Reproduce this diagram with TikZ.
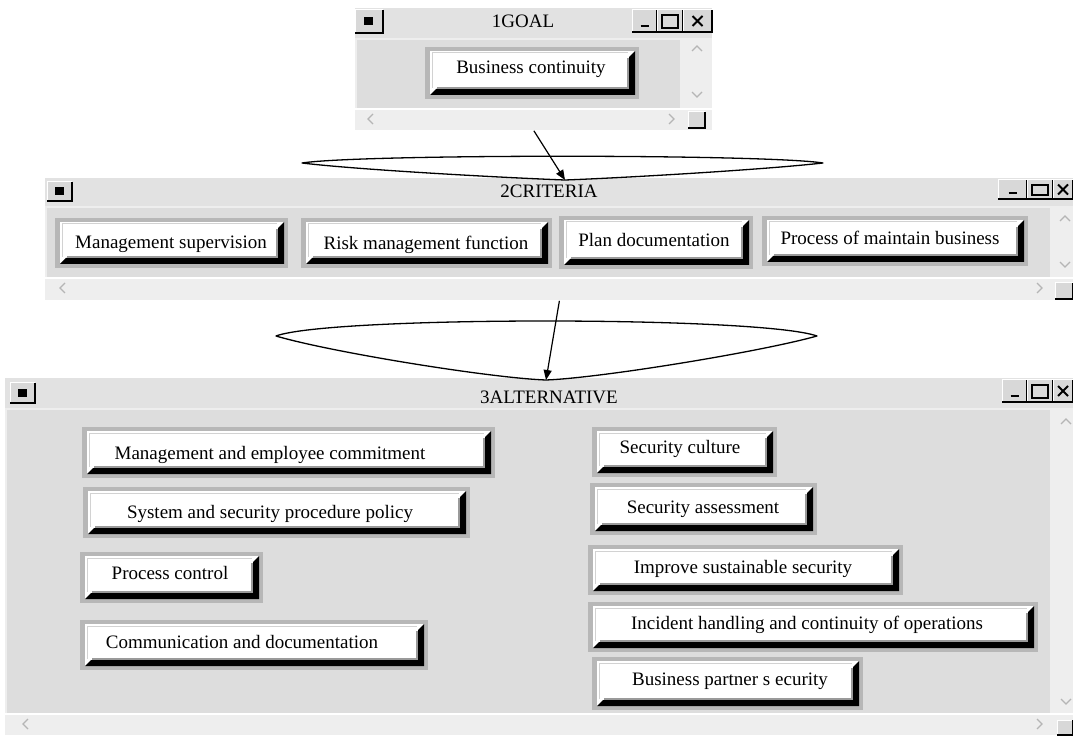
\documentclass[tikz,border=0pt]{standalone}
\usepackage{fontspec}
\setmainfont{Liberation Serif}
\usetikzlibrary{arrows.meta}
\definecolor{titlegray}{HTML}{E2E2E2}
\definecolor{contgray}{HTML}{DDDDDD}
\definecolor{stripgray}{HTML}{EEEEEE}
\definecolor{framegray}{HTML}{B7B7B7}
\definecolor{ctrlgray}{HTML}{D8D8D8}
\definecolor{chevgray}{HTML}{B5B5B5}
\definecolor{bevgray}{HTML}{9A9A9A}
\tikzset{
  lbl/.style={font=\fontsize{9.5}{11}\selectfont, inner sep=0pt, text=black},
  funnel/.style={draw=black, line width=0.65pt, fill=white, line join=round},
  conn/.style={draw=black, line width=0.6pt, -{Triangle[length=5pt,width=4pt]}},
  chev/.style={draw=chevgray, line width=0.6pt},
}
\newcommand\mywin[8]{%
  \node[fill=stripgray, inner sep=0pt, minimum width={(#4-#2)*0.5pt}, minimum height={(#5-#3)*0.5pt}, anchor=north west] (#1) at (#2,#3) {};
  \fill[titlegray] (#2,#3) rectangle (#4,#6);
  \fill[contgray] (#2+2,#6+2) rectangle (#8,#7);
  \draw[white, line width=0.6pt] (#2,#7+1) -- (#4,#7+1);
}
\newcommand\ctlbox[4]{%
  \fill[ctrlgray] (#1,#2) rectangle (#3,#4);
  \draw[white, line width=0.5pt] (#1,#4) -- (#1,#2) -- (#3,#2);
  \draw[black, line width=0.8pt] (#1,#4) -- (#3,#4) -- (#3,#2);
}
\newcommand\menubtn[4]{%
  \ctlbox{#1}{#2}{#3}{#4}%
  \fill[black] ({(#1+#3)/2-5},{(#2+#4)/2-4}) rectangle ({(#1+#3)/2+4},{(#2+#4)/2+4});
}
\newcommand\ctls[6]{%
  \ctlbox{#1}{#5}{#2}{#6}\ctlbox{#2}{#5}{#3}{#6}\ctlbox{#3}{#5}{#4}{#6}%
  \draw[black, line width=1.3pt] ({(#1+#2)/2-4},{#6-6}) -- ({(#1+#2)/2+4},{#6-6});
  \draw[black, line width=0.6pt] ({(#2+#3)/2-8},{#5+5}) rectangle ({(#2+#3)/2+8},{#6-4});
  \draw[black, line width=1.2pt] ({(#2+#3)/2-8},{#5+5}) -- ({(#2+#3)/2+8},{#5+5});
  \draw[black, line width=0.9pt] ({(#3+#4)/2-5},{(#5+#6)/2-5}) -- ({(#3+#4)/2+5},{(#5+#6)/2+5})
    ({(#3+#4)/2-5},{(#5+#6)/2+5}) -- ({(#3+#4)/2+5},{(#5+#6)/2-5});
}
\newcommand\mychup[2]{\draw[chev] (#1-5,#2+3) -- (#1,#2-2) -- (#1+5,#2+3);}
\newcommand\mychdn[2]{\draw[chev] (#1-5,#2-3) -- (#1,#2+2) -- (#1+5,#2-3);}
\newcommand\mychlt[2]{\draw[chev] (#1+3,#2-5) -- (#1-2,#2) -- (#1+3,#2+5);}
\newcommand\mychrt[2]{\draw[chev] (#1-3,#2-5) -- (#1+2,#2) -- (#1-3,#2+5);}
\newcommand\mybtn[8]{%
  \fill[framegray] (#2,#3) rectangle (#4,#5);
  \fill[white] (#2+5,#3+4) rectangle (#4-4,#5-4);
  \draw[gray!35, line width=0.5pt] (#2+7,#5-11) -- (#2+7,#3+6) -- (#4-11,#3+6);
  \fill[black] (#4-4,#3+4) -- (#4-4,#5-4) -- (#2+5,#5-4) -- (#2+11,#5-10) -- (#4-10,#5-10) -- (#4-10,#3+10) -- cycle;
  \draw[bevgray, line width=0.7pt] (#4-11,#3+11) -- (#4-11,#5-11) -- (#2+12,#5-11);
  \node[lbl, anchor=base] (#1) at (#6,#7+6) {#8};
}
\begin{document}
\begin{tikzpicture}[x=0.5pt,y=-0.5pt]
\useasboundingbox (0,0) rectangle (1073,738);
\fill[white] (0,0) rectangle (1073,738);

% ---------- window 1 ----------
\mywin{w1}{355}{8}{712}{130}{38}{108}{680}
\menubtn{355}{10}{383}{33}
\ctls{632}{657}{683}{712}{10}{32}
\node[lbl, anchor=base] (t1) at (523,28) {1GOAL};
\mychup{697}{48}
\mychdn{697}{95}
\mychlt{370}{119}
\mychrt{672}{119}
\ctlbox{688}{112}{705}{128}
\mybtn{b1}{425}{47}{639}{99}{531}{68}{Business continuity}

% ---------- window 2 ----------
\mywin{w2}{45}{178}{1073}{300}{206}{277}{1050}
\menubtn{47}{182}{72}{201}
\ctls{998}{1027}{1053}{1073}{180}{199}
\node[lbl, anchor=base] (t2) at (549,198) {2CRITERIA};
\mychup{1065}{218}
\mychdn{1065}{265}
\mychlt{62}{288}
\mychrt{1040}{288}
\ctlbox{1055}{283}{1073}{299}
\mybtn{c1}{55}{218}{288}{268}{171}{243}{Management supervision}
\mybtn{c2}{301}{218}{552}{268}{426}{244}{Risk management function}
\mybtn{c3}{559}{216}{753}{269}{654}{241}{Plan documentation}
\mybtn{c4}{762}{216}{1028}{266}{890}{239}{Process of maintain business}

% ---------- window 3 ----------
\mywin{w3}{5}{378}{1073}{735}{408}{713}{1050}
\menubtn{10}{383}{35}{403}
\ctls{1002}{1027}{1053}{1073}{380}{402}
\node[lbl, anchor=base] (t3) at (549,403) {3ALTERNATIVE};
\mychup{1066}{421}
\mychdn{1066}{702}
\mychlt{25}{724}
\mychrt{1040}{724}
\ctlbox{1057}{720}{1073}{735}
\mybtn{a1}{82}{427}{495}{478}{270}{453}{Management and employee commitment}
\mybtn{a2}{83}{487}{470}{538}{270}{512}{System and security procedure policy}
\mybtn{a3}{80}{552}{263}{603}{170}{573}{Process control}
\mybtn{a4}{80}{620}{428}{670}{242}{642}{Communication and documentation}
\mybtn{a5}{592}{427}{777}{477}{680}{447}{Security culture}
\mybtn{a6}{590}{483}{817}{535}{703}{507}{Security assessment}
\mybtn{a7}{588}{545}{903}{595}{743}{567}{Improve sustainable security}
\mybtn{a8}{588}{602}{1038}{652}{807}{623}{Incident handling and continuity of operations}
\mybtn{a9}{592}{657}{863}{710}{730}{679}{Business partner s ecurity}

% ---------- funnels and connectors ----------
\coordinate (f1l) at (302,163);
\coordinate (f1r) at (823,163);
\coordinate (f1b) at (565,180);
\draw[funnel] (f1l) .. controls (360,154) and (765,154) .. (f1r)
  .. controls (760,170) and (620,178) .. (f1b)
  .. controls (510,178) and (360,170) .. (f1l) -- cycle;
\coordinate (f2l) at (276,336);
\coordinate (f2r) at (817,336);
\coordinate (f2b) at (546,380);
\draw[funnel] (f2l) .. controls (330,316) and (760,316) .. (f2r)
  .. controls (760,352) and (600,378) .. (f2b)
  .. controls (490,378) and (330,352) .. (f2l) -- cycle;
\draw[conn] (w1.south) -- (f1b);
\draw[conn] (w2.south) -- (f2b);
\end{tikzpicture}
\end{document}
